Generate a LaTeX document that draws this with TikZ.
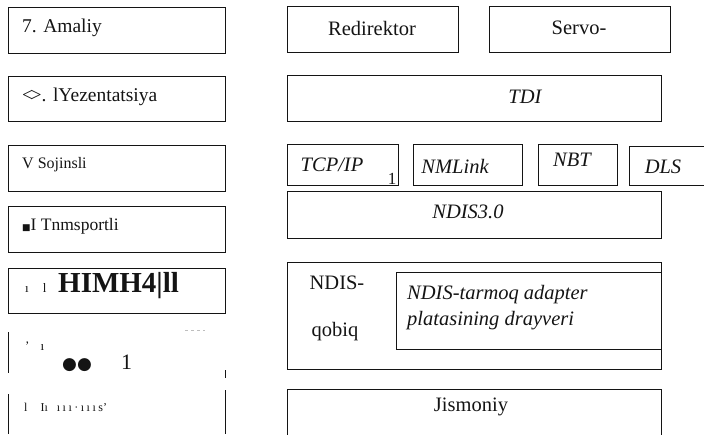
\documentclass[tikz,border=0pt]{standalone}
\usepackage{fontspec}
\setmainfont{Liberation Serif}
\newfontfamily\symfont{DejaVu Sans}
\usetikzlibrary{positioning}
\definecolor{inkblack}{RGB}{20,20,20}
\definecolor{scangray}{RGB}{190,190,190}
\newcommand{\lblfont}{\fontsize{19.5}{22}\selectfont}
\newcommand{\smallfont}{\fontsize{16}{18}\selectfont}
\newcommand{\rfont}{\fontsize{20.5}{23}\selectfont}
\newcommand{\markfont}{\fontsize{13}{14}\selectfont}
\tikzset{
  layerbox/.style={
    draw=inkblack, line width=0.9pt, inner sep=0pt,
    anchor=north west
  },
  leftlabel/.style={
    anchor=west, inner sep=0pt, text=inkblack,
    font=\lblfont
  },
  midlabel/.style={
    inner sep=0pt, text=inkblack, font=\rfont
  },
  itlabel/.style={
    inner sep=0pt, text=inkblack, font=\rfont\itshape
  },
  edgestub/.style={
    draw=inkblack, line width=0.9pt
  },
}
\begin{document}
\begin{tikzpicture}[x=1pt, y=-1pt]

  \useasboundingbox (0,0) rectangle (704,434);
  \clip (0,0) rectangle (704,434);

  %% Left column: the seven layers
  \node[layerbox, minimum width=217pt, minimum height=46pt] (amaliy) at (8,7) {};
  \node[leftlabel] (amaliytxt) at (22,28) {7. Amaliy};

  \node[layerbox, minimum width=217pt, minimum height=45pt] (taqdimot) at (8,76) {};
  \node[leftlabel] (taqdimottxt) at (22,97) {<\kern-2.5pt>. lYezentatsiya};

  \node[layerbox, minimum width=217pt, minimum height=46pt] (seans) at (8,145) {};
  \node[leftlabel, font=\smallfont] (seanstxt) at (22,165) {V Sojinsli};

  \node[layerbox, minimum width=217pt, minimum height=46pt] (transport) at (8,206) {};
  \node[leftlabel, font=\fontsize{17.5}{19}\selectfont] (transporttxt) at (22,226)
    {{\symfont\fontsize{9}{9}\selectfont ■}I Tnmsportli};

  \node[layerbox, minimum width=217pt, minimum height=45pt] (tarmoq) at (8,268) {};
  \node[leftlabel, font=\markfont] (tarmoqmark) at (25,288) {ı\hspace{14pt}l};
  \node[leftlabel, font=\fontsize{29}{32}\selectfont\bfseries] (tarmoqtxt) at (58,286)
    {HIMH4|ll};

  % only the side edges are left of the last two boxes
  \coordinate (kanaltop) at (8,332);
  \coordinate (kanalbot) at (8,373);
  \draw[edgestub] (kanaltop) -- (kanalbot);
  \draw[edgestub] (225,370) -- (225,378);
  \draw[draw=scangray, line width=0.5pt, dashed] (185,330) -- (205,330);
  \node[leftlabel, font=\markfont] (kanalmark) at (25,346) {'\hspace{11pt}ı};
  \node[leftlabel, font=\symfont\fontsize{17}{18}\selectfont] (kanaldots) at (62,365) {●●};
  \node[leftlabel, font=\fontsize{22}{24}\selectfont] (kanaltxt) at (121,362) {1};

  \draw[edgestub] (8,394) -- (8,434);
  \draw[edgestub] (225,390) -- (225,434);
  \node[leftlabel, font=\fontsize{12}{13}\selectfont] (fiziktxt) at (24,407)
    {l\hspace{13pt}I\i\hspace{9pt}\i\hspace{2.5pt}\i\hspace{2.5pt}\i\hspace{2.5pt}·\hspace{2.5pt}\i\hspace{2.5pt}\i\hspace{2.5pt}\i\hspace{2.5pt}s\textquoteright};

  %% Right column: network components
  \node[layerbox, minimum width=171pt, minimum height=46pt] (redir) at (287,6) {};
  \node[midlabel] (redirtxt) at (372,28) {Redirektor};

  \node[layerbox, minimum width=181pt, minimum height=46pt] (servo) at (489,6) {};
  \node[midlabel] (servotxt) at (579,28) {Servo-};

  \node[layerbox, minimum width=374pt, minimum height=46pt] (tdi) at (287,75) {};
  \node[itlabel] (tditxt) at (525,97) {TDI};

  %% Protocol row
  \node[layerbox, minimum width=111pt, minimum height=41pt] (tcpip) at (287,144) {};
  \node[itlabel] (tcpiptxt) at (332,165) {TCP/IP};
  \node[midlabel, font=\fontsize{17}{18}\selectfont] (tcpipone) at (392,179) {1};

  \node[layerbox, minimum width=109pt, minimum height=41pt, right=14pt of tcpip] (nmlink) {};
  \node[itlabel] (nmlinktxt) at (455,166) {NMLink};

  \node[layerbox, minimum width=79pt, minimum height=41pt, right=15pt of nmlink] (nbt) {};
  \node[itlabel] (nbttxt) at (572,160) {NBT};

  \node[layerbox, minimum width=90pt, minimum height=39pt] (dls) at (629,146) {};
  \node[itlabel] (dlstxt) at (663,167) {DLS};

  \node[layerbox, minimum width=374pt, minimum height=47pt] (ndis) at (287,191) {};
  \node[itlabel] (ndistxt) at (468,212) {NDIS3.0};

  %% NDIS shell with the adapter driver inside
  \node[layerbox, minimum width=374pt, minimum height=107pt] (qobiq) at (287,262) {};
  \node[midlabel] (qobiqtop) at (337,283) {NDIS-};
  \node[midlabel] (qobiqbot) at (335,332) {qobiq};

  \node[layerbox, minimum width=265pt, minimum height=77pt] (drayver) at (396,272) {};
  \node[itlabel, anchor=west] (drayverone) at (407,295) {NDIS-tarmoq adapter};
  \node[itlabel, anchor=west] (drayvertwo) at (407,321) {platasining drayveri};

  \node[layerbox, minimum width=374pt, minimum height=70pt] (jismoniy) at (287,389) {};
  \node[midlabel] (jismoniytxt) at (471,407) {Jismoniy};

\end{tikzpicture}
\end{document}
